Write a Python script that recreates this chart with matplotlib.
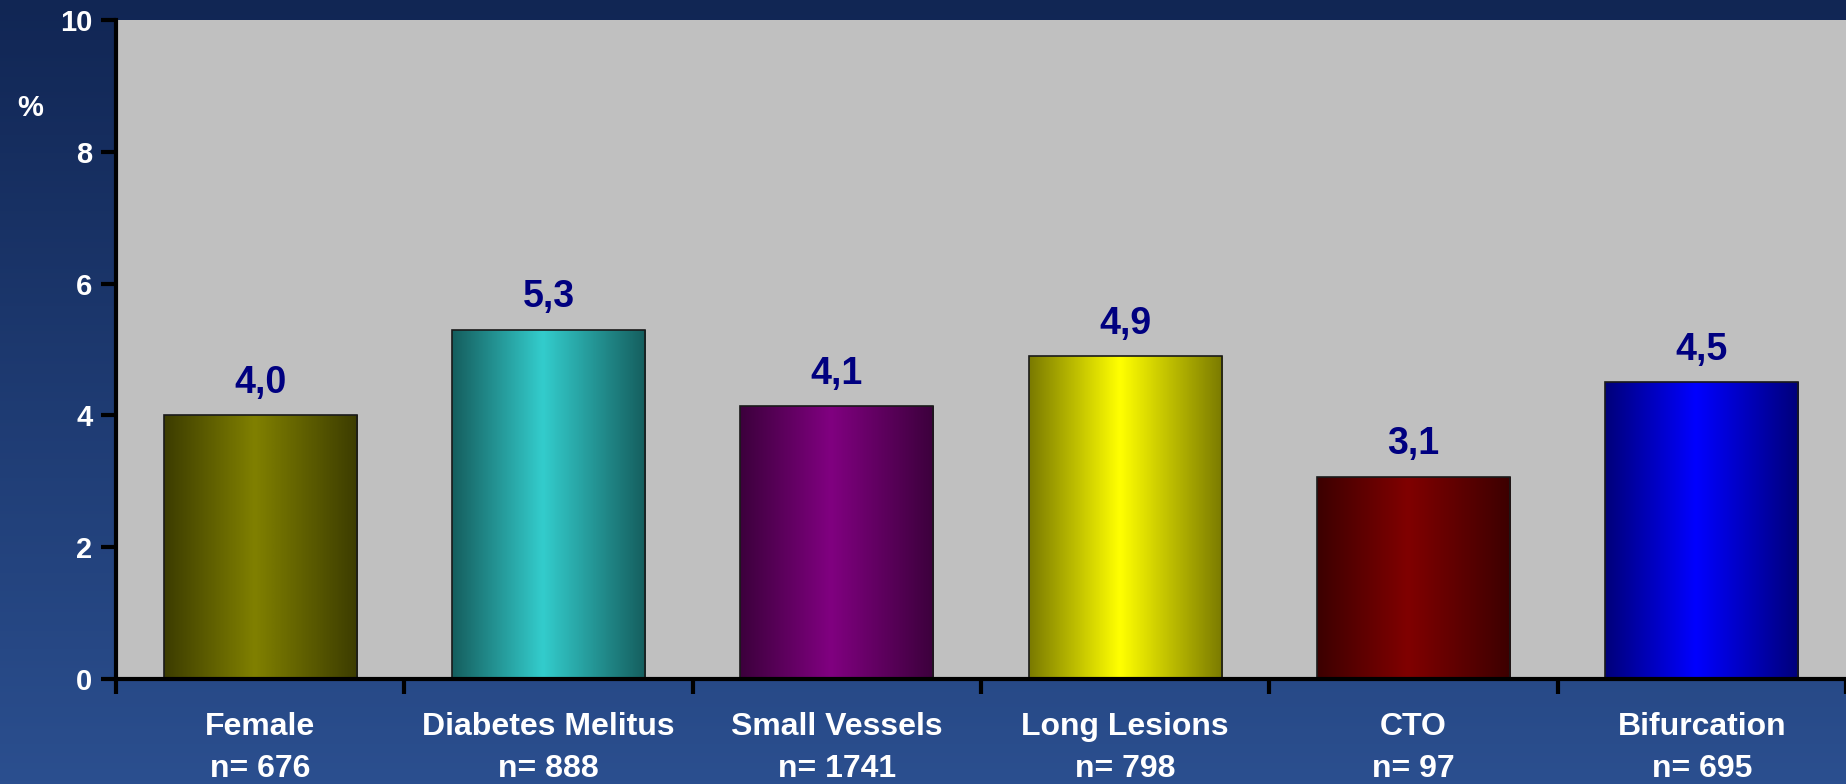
import numpy as np
import matplotlib
matplotlib.use('Agg')
import matplotlib.pyplot as plt
from matplotlib.colors import LinearSegmentedColormap

plt.rcParams['font.family'] = ['Liberation Sans', 'DejaVu Sans']
plt.rcParams['font.weight'] = 'bold'

categories = ['Female', 'Diabetes Melitus', 'Small Vessels', 'Long Lesions', 'CTO', 'Bifurcation']
n_counts = ['676', '888', '1741', '798', '97', '695']
values = [4.0, 5.3, 4.14, 4.9, 3.07, 4.5]
value_labels = ['4,0', '5,3', '4,1', '4,9', '3,1', '4,5']
# (edge colour, centre colour) for the horizontal shading of each bar
bar_shades = [('#3c3c00', '#808000'), ('#155e5e', '#33cccc'), ('#3c003c', '#800080'),
              ('#7a7a00', '#ffff00'), ('#3c0000', '#800000'), ('#00007a', '#0000ff')]

fig = plt.figure(figsize=(18.46, 7.84), dpi=100)

# page background: vertical navy gradient
bg = fig.add_axes([0, 0, 1, 1])
bg_cmap = LinearSegmentedColormap.from_list('bg', ['#2b4f8f', '#112654'])
bg.imshow(np.linspace(0, 1, 256).reshape(-1, 1)[::-1], aspect='auto', cmap=bg_cmap,
          extent=[0, 1, 0, 1], origin='upper')
bg.axis('off')

ax = fig.add_axes([0.0628, 0.1339, 0.9372, 0.8406])
ax.set_facecolor('#c0c0c0')
x = np.arange(len(categories))
width = 0.67
bars = ax.bar(x, values, width=width, color='none', edgecolor='#1a1a1a', linewidth=1.2, zorder=3)

grad = np.concatenate([np.linspace(0, 1, 120), np.linspace(1, 0, 136)])
for b, (edge, centre), lab in zip(bars, bar_shades, value_labels):
    cm = LinearSegmentedColormap.from_list('s', [edge, centre])
    x0, w, h = b.get_x(), b.get_width(), b.get_height()
    im = ax.imshow(grad.reshape(1, -1), aspect='auto', cmap=cm, vmin=0, vmax=1,
                   extent=[x0, x0 + w, 0, h], zorder=2)
    im.set_clip_path(b)
    ax.text(x0 + w / 2, h + 0.22, lab, ha='center', va='bottom',
            color='#000080', fontsize=27, fontweight='bold')

ax.set_xlim(-0.5, 5.5)
ax.set_ylim(0, 10)
ax.set_yticks([0, 2, 4, 6, 8, 10])
ax.tick_params(axis='y', colors='black', labelcolor='white', labelsize=21, length=11, width=3, pad=6)
ax.set_xticks(x)
ax.set_xticklabels([c + '\nn= ' + n for c, n in zip(categories, n_counts)],
                   color='white', fontsize=23, linespacing=1.5)
ax.tick_params(axis='x', length=0, pad=24)
ax.set_xticks(np.arange(-0.5, 5.6, 1.0), minor=True)
ax.tick_params(axis='x', which='minor', length=11, width=3, color='black')
for s in ['top', 'right']:
    ax.spines[s].set_visible(False)
for s in ['left', 'bottom']:
    ax.spines[s].set_linewidth(3)
    ax.spines[s].set_color('black')
    ax.spines[s].set_zorder(5)

fig.text(0.0165, 0.862, '%', color='white', fontsize=21, fontweight='bold', ha='center', va='center')

fig.savefig('out.png', dpi=100)
